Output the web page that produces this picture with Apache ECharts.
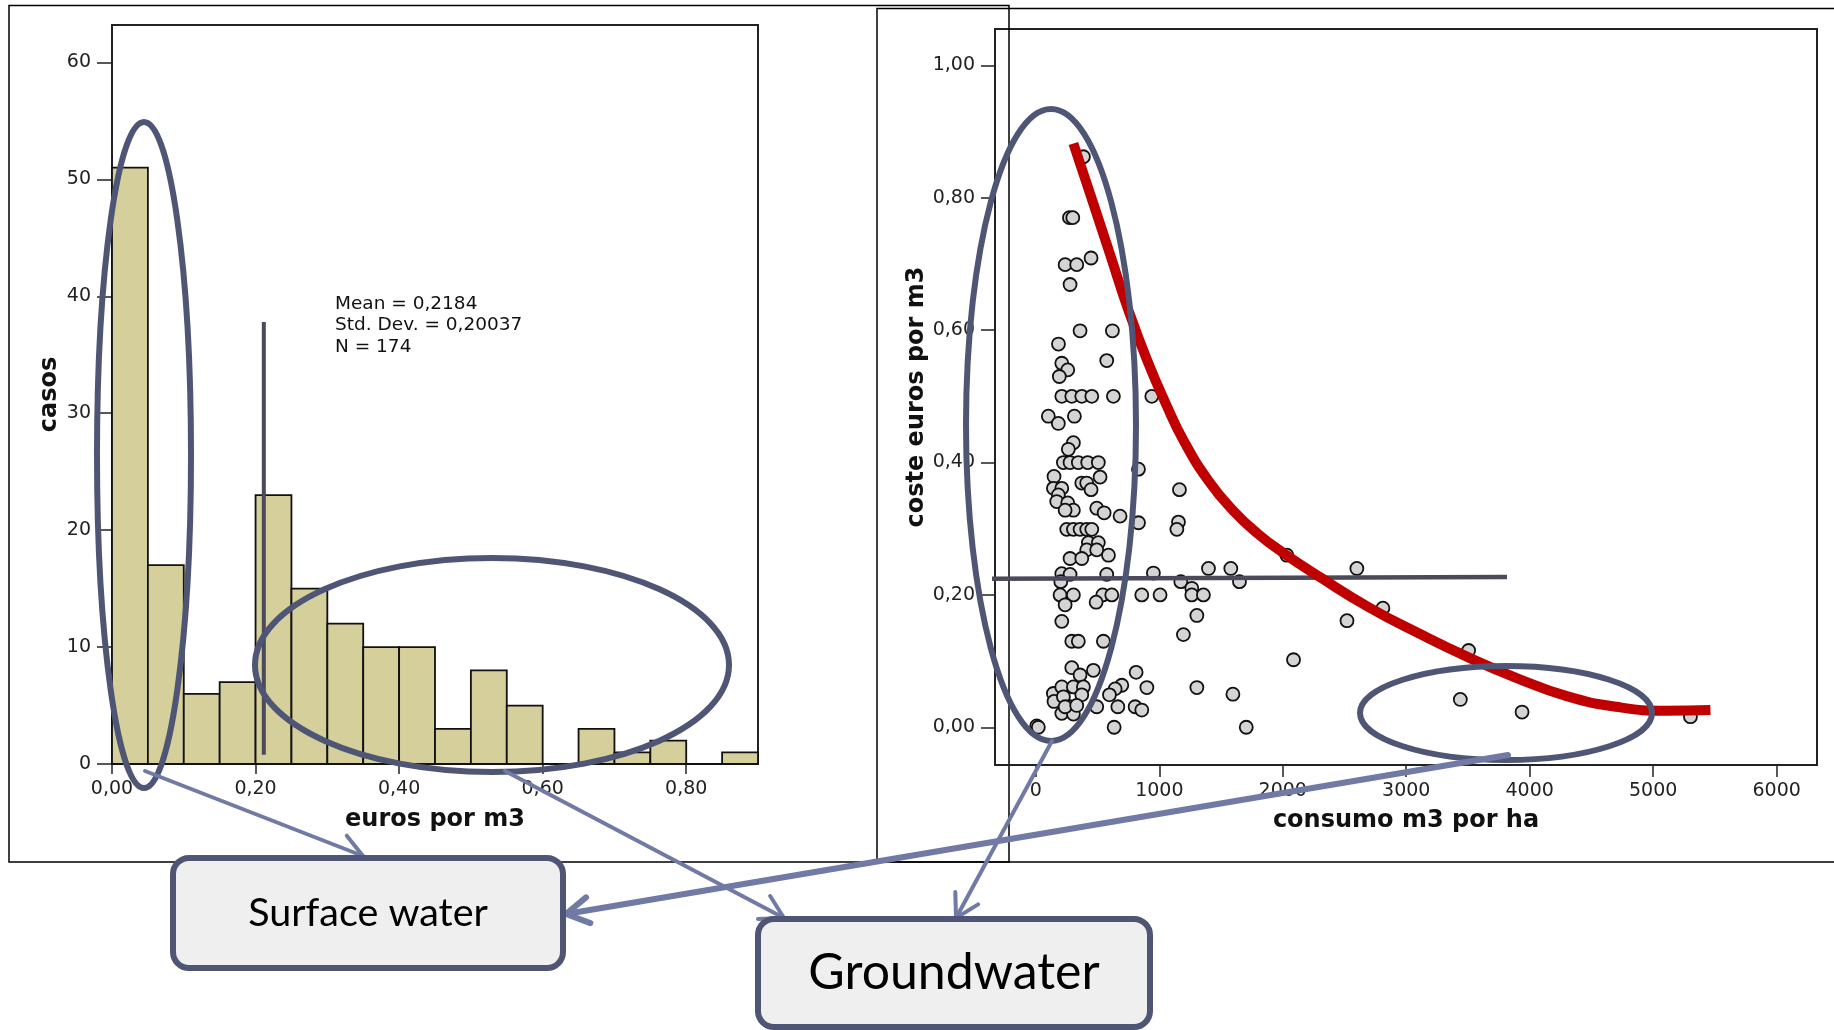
<!DOCTYPE html>
<html>
<head>
<meta charset="utf-8">
<script src="https://cdn.jsdelivr.net/npm/echarts@6/dist/echarts.min.js"></script>
<style>
  html, body { margin: 0; padding: 0; background: #fff; }
  #chart { width: 1834px; height: 1030px; }
</style>
</head>
<body>
<div id="chart"></div>
<script>
// histogram: euros por m3 (bins of 0.05)
const binStarts = [0, 0.05, 0.10, 0.15, 0.20, 0.25, 0.30, 0.35, 0.40, 0.45, 0.50, 0.55, 0.60, 0.65, 0.70, 0.75, 0.80, 0.85]
const binWidth = 0.05
const casos = [51, 17, 6, 7, 23, 15, 12, 10, 10, 3, 8, 5, 0, 3, 1, 2, 0, 1]
const histTicksX = [0, 0.2, 0.4, 0.6, 0.8]
const histTicksY = [0, 10, 20, 30, 40, 50, 60]
const meanCost = 0.2115
const meanLineRange = [0.8, 37.8]
const statsText = ['Mean = 0,2184', 'Std. Dev. = 0,20037', 'N = 174']

// scatter: consumo m3 por ha vs coste euros por m3
const consumo = [385, 272, 299, 237, 331, 447, 277, 358, 620, 183, 574, 210, 258, 190,
  210, 291, 372, 453, 628, 939, 101, 182, 312, 304, 263,
  223, 277, 344, 420, 506, 831, 147, 520, 372, 412, 447, 142, 210, 182, 169, 258, 304, 237, 493, 553, 682, 831, 1163, 1155, 1142,
  250, 304, 358, 412, 453, 425, 506, 412, 493, 588, 277, 372, 210, 277, 574, 952, 202, 1398, 1579, 2033, 2600, 1174, 1649,
  196, 304, 542, 615, 858, 1006, 1263, 1263, 1357, 237, 488, 1304, 2811, 210, 2520, 1195, 291, 344, 547, 3505, 2087, 291, 358, 466, 812,
  899, 696, 642, 596, 142, 210, 304, 385, 147, 223, 372, 277, 210, 304, 237, 331, 493, 664, 804, 858, 7, 20, 634, 1304, 1596, 1704, 3438, 3938, 5302]
const coste = [0.862, 0.770, 0.770, 0.699, 0.699, 0.709, 0.669, 0.599, 0.599, 0.579, 0.554, 0.55, 0.54, 0.53,
  0.50, 0.50, 0.50, 0.50, 0.50, 0.50, 0.470, 0.459, 0.470, 0.430, 0.420,
  0.40, 0.40, 0.40, 0.40, 0.40, 0.390, 0.379, 0.378, 0.369, 0.369, 0.359, 0.361, 0.361, 0.351, 0.341, 0.339, 0.328, 0.328, 0.331, 0.324, 0.319, 0.309, 0.359, 0.310, 0.299,
  0.299, 0.299, 0.299, 0.299, 0.299, 0.279, 0.279, 0.268, 0.268, 0.260, 0.255, 0.255, 0.232, 0.231, 0.231, 0.233, 0.220, 0.240, 0.240, 0.26, 0.240, 0.220, 0.220,
  0.20, 0.20, 0.20, 0.20, 0.20, 0.20, 0.21, 0.20, 0.20, 0.185, 0.189, 0.169, 0.180, 0.160, 0.161, 0.140, 0.130, 0.130, 0.130, 0.116, 0.102, 0.090, 0.079, 0.086, 0.083,
  0.060, 0.0635, 0.058, 0.049, 0.051, 0.061, 0.061, 0.061, 0.039, 0.046, 0.049, 0.031, 0.021, 0.020, 0.031, 0.033, 0.031, 0.031, 0.031, 0.026, 0.002, 0.0, 0.0, 0.060, 0.050, 0.0, 0.042, 0.023, 0.016]
const scatTicksX = [0, 1000, 2000, 3000, 4000, 5000, 6000]
const scatTicksY = [0, 0.2, 0.4, 0.6, 0.8, 1.0]

// hand-drawn fitted curve (red) and mean line (dark)
const curveX = [304, 450, 600, 750, 900, 1050, 1200, 1400, 1600, 1800, 2000, 2300, 2700, 3100, 3500, 3900, 4300, 4700, 5100, 5464]
const curveY = [0.882, 0.800, 0.715, 0.630, 0.555, 0.490, 0.432, 0.372, 0.327, 0.292, 0.264, 0.227, 0.181, 0.142, 0.106, 0.074, 0.047, 0.031, 0.025, 0.026]
const meanLineX = [-412, 3816]
const meanLineY = [0.2245, 0.227]

const comma2 = (v) => v.toFixed(2).replace('.', ',')
const font = 'DejaVu Sans'
const annColor = '#4f5675'
const arrowColor = '#707aa5'

function arrow(x0, y0, x1, y1, w) {
  const len = Math.hypot(x1 - x0, y1 - y0)
  const dx = (x1 - x0) / len, dy = (y1 - y0) / len
  const L = 26, a = Math.PI / 6
  const h1 = [x1 - L * (dx * Math.cos(a) - dy * Math.sin(a)), y1 - L * (dy * Math.cos(a) + dx * Math.sin(a))]
  const h2 = [x1 - L * (dx * Math.cos(a) + dy * Math.sin(a)), y1 - L * (dy * Math.cos(a) - dx * Math.sin(a))]
  const st = { stroke: arrowColor, lineWidth: w, fill: null, lineCap: 'round', lineJoin: 'round' }
  return [
    { type: 'polyline', z: 90, shape: { points: [[x0, y0], [x1, y1]] }, style: st },
    { type: 'polyline', z: 90, shape: { points: [h1, [x1, y1], h2] }, style: st },
  ]
}

function box(x, y, w, h, text, size) {
  return [
    { type: 'rect', z: 95, shape: { x, y, width: w, height: h, r: 16 },
      style: { fill: '#efefef', stroke: annColor, lineWidth: 6 } },
    { type: 'text', z: 96, x: x + w / 2, y: y + h / 2,
      style: { text, fontFamily: 'Lato', fontSize: size, fill: '#000', align: 'center', verticalAlign: 'middle' } },
  ]
}

function ellipse(cx, cy, rx, ry) {
  return { type: 'ellipse', z: 80, shape: { cx, cy, rx, ry },
    style: { fill: null, stroke: annColor, lineWidth: 6 } }
}

const axisLabelStyle = { fontFamily: font, fontSize: 19, color: '#222' }
const axisNameStyle = { fontFamily: font, fontSize: 24, fontWeight: 'bold', color: '#111' }
const axisLineStyle = { show: true, onZero: false, lineStyle: { color: '#222', width: 2 } }

let option = {
  backgroundColor: '#fff',
  animation: false,
  grid: [
    { left: 112, top: 25, width: 646, height: 739, show: true, borderColor: '#222', borderWidth: 2 },
    { left: 995, top: 29, width: 822, height: 736, show: true, borderColor: '#222', borderWidth: 2 },
  ],
  xAxis: [
    {
      gridIndex: 0, type: 'value', min: 0, max: 0.9,
      name: 'euros por m3', nameLocation: 'middle', nameGap: 44, nameTextStyle: axisNameStyle,
      axisLine: axisLineStyle, splitLine: { show: false },
      axisTick: { show: true, length: 10, lineStyle: { color: '#222', width: 1.5 }, customValues: histTicksX },
      axisLabel: { ...axisLabelStyle, margin: 16, formatter: comma2, customValues: histTicksX },
    },
    {
      gridIndex: 1, type: 'value', min: -331, max: 6327,
      name: 'consumo m3 por ha', nameLocation: 'middle', nameGap: 44, nameTextStyle: axisNameStyle,
      axisLine: axisLineStyle, splitLine: { show: false },
      axisTick: { show: true, length: 12, lineStyle: { color: '#222', width: 1.5 }, customValues: scatTicksX },
      axisLabel: { ...axisLabelStyle, margin: 17, formatter: (v) => String(v), customValues: scatTicksX },
    },
  ],
  yAxis: [
    {
      gridIndex: 0, type: 'value', min: 0, max: 63.2,
      name: 'casos', nameLocation: 'middle', nameGap: 50, nameRotate: 90, nameTextStyle: axisNameStyle,
      axisLine: axisLineStyle, splitLine: { show: false },
      axisTick: { show: true, length: 15, lineStyle: { color: '#222', width: 1.5 }, customValues: histTicksY },
      axisLabel: { ...axisLabelStyle, margin: 21, customValues: histTicksY },
    },
    {
      gridIndex: 1, type: 'value', min: -0.057, max: 1.055,
      name: 'coste euros por m3', nameLocation: 'middle', nameGap: 65, nameRotate: 90, nameTextStyle: axisNameStyle,
      axisLine: axisLineStyle, splitLine: { show: false },
      axisTick: { show: true, length: 14, lineStyle: { color: '#222', width: 1.5 }, customValues: scatTicksY },
      axisLabel: { ...axisLabelStyle, margin: 20, formatter: comma2, customValues: scatTicksY },
    },
  ],
  series: [
    {
      type: 'custom', xAxisIndex: 0, yAxisIndex: 0, z: 2,
      data: binStarts.map((b, i) => [b, b + binWidth, casos[i]]),
      encode: { x: [0, 1], y: 2 },
      renderItem: (params, api) => {
        const p0 = api.coord([api.value(0), api.value(2)])
        const p1 = api.coord([api.value(1), 0])
        return {
          type: 'rect',
          shape: { x: p0[0], y: p0[1], width: p1[0] - p0[0], height: p1[1] - p0[1] },
          style: { fill: '#d4cf9b', stroke: '#111', lineWidth: 1.8 },
        }
      },
    },
    {
      type: 'line', xAxisIndex: 0, yAxisIndex: 0, z: 3, symbol: 'none',
      data: meanLineRange.map((v) => [meanCost, v]),
      lineStyle: { color: '#4a4a5a', width: 4 },
    },
    {
      type: 'scatter', xAxisIndex: 1, yAxisIndex: 1, z: 2,
      symbol: 'circle', symbolSize: 13,
      data: consumo.map((x, i) => [x, coste[i]]),
      itemStyle: { color: '#d4d4d4', borderColor: '#111', borderWidth: 1.8, opacity: 1 },
    },
    {
      type: 'line', xAxisIndex: 1, yAxisIndex: 1, z: 3, symbol: 'none', clip: false,
      data: meanLineX.map((x, i) => [x, meanLineY[i]]),
      lineStyle: { color: '#4a4a5a', width: 4.5 },
    },
    {
      type: 'line', xAxisIndex: 1, yAxisIndex: 1, z: 4, symbol: 'none', clip: false,
      smooth: 0.5,
      data: curveX.map((x, i) => [x, curveY[i]]),
      lineStyle: { color: '#c00000', width: 10, cap: 'butt', join: 'round' },
    },
  ],
  graphic: [
    // panel frames
    { type: 'rect', z: 0, shape: { x: 9, y: 5.5, width: 1000, height: 856.5 }, style: { fill: null, stroke: '#000', lineWidth: 1.5 } },
    { type: 'rect', z: 1, shape: { x: 877, y: 8.5, width: 960, height: 853.5 }, style: { fill: null, stroke: '#000', lineWidth: 1.5 } },
    // summary text
    ...statsText.map((t, i) => ({
      type: 'text', z: 50, x: 335, y: 304 + i * 21.5,
      style: { text: t, fontFamily: font, fontSize: 18.5, fill: '#111', verticalAlign: 'middle' },
    })),
    // annotations
    ellipse(144, 455, 47, 333),
    ellipse(492, 665, 237, 107),
    ellipse(1051, 425, 85, 316),
    ellipse(1506, 713, 146, 47),
    ...arrow(145, 771, 363, 856, 4),
    ...arrow(505, 771, 784, 918, 4),
    ...arrow(1052, 741, 956, 918, 4),
    ...arrow(1508, 755, 566, 914, 6),
    ...box(173, 858, 390, 110, 'Surface water', 39.5),
    ...box(758, 919, 392, 108, 'Groundwater', 50),
  ],
}

const dom = document.getElementById('chart')
const chart = echarts.init(dom)
chart.setOption(option)
</script>
</body>
</html>
